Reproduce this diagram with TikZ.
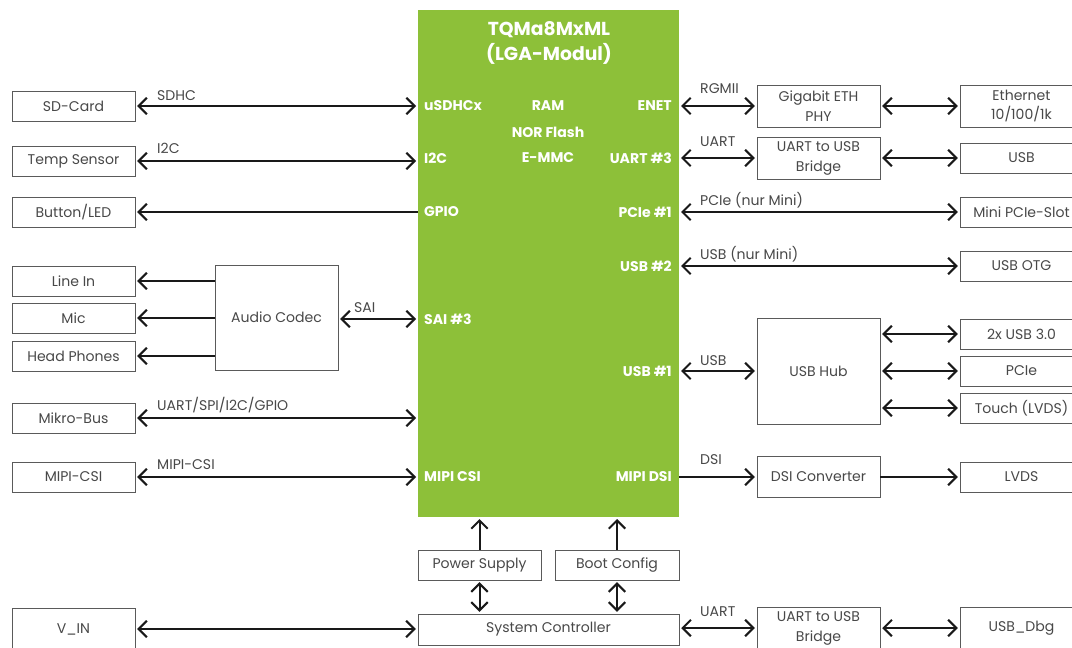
\documentclass[tikz,border=0pt]{standalone}
\usepackage{fontspec}
\setmainfont{Poppins}
\usepackage{xcolor}
\definecolor{tqgreen}{RGB}{141,192,57}
\definecolor{tqgrey}{RGB}{72,72,72}
\definecolor{tqline}{RGB}{90,90,90}
\definecolor{tqink}{RGB}{25,25,25}
\usetikzlibrary{arrows.meta,positioning}
\tikzset{
  box/.style={draw=tqline, line width=0.8pt, align=center, minimum width=3.69cm, minimum height=0.9cm, inner sep=1pt, text=tqgrey, font=\fontsize{12}{17}\selectfont},
  tall/.style={minimum height=1.26cm},
  port/.style={text=white, inner sep=0pt, font=\fontsize{12}{14}\selectfont\bfseries},
  bus/.style={anchor=base west, inner sep=0pt, text=tqgrey, font=\fontsize{12}{14}\selectfont},
  bi/.style={{Straight Barb[length=7pt,width=14pt]}-{Straight Barb[length=7pt,width=14pt]}, line width=1.7pt, tqink, shorten <=1.5pt, shorten >=1.5pt},
  uni/.style={-{Straight Barb[length=7pt,width=14pt]}, line width=1.7pt, tqink, shorten >=1.5pt}
}

\begin{document}
\begin{tikzpicture}[x=0.03cm, y=-0.03cm]
  \useasboundingbox (0,0) rectangle (1072,647);
  \clip (0,0) rectangle (1072,647);
  % module
  \node[fill=tqgreen, minimum width=7.83cm, minimum height=15.21cm, inner sep=0pt] (som) at (548.5,263.5) {};
  \node[port, font=\fontsize{16}{19}\selectfont\bfseries] (title) at (549,30) {TQMa8MxML};
  \node[port, font=\fontsize{16}{19}\selectfont\bfseries] (title2) at (549,54) {(LGA-Modul)};
  \node[port] (ram) at (548,106) {RAM};
  \node[port] (nor) at (548,132) {NOR Flash};
  \node[port] (emmc) at (548,158) {E-MMC};
  \node[port, anchor=west] (p-sd) at (424,106) {uSDHCx};
  \node[port, anchor=west] (p-i2c) at (424,158) {I2C};
  \node[port, anchor=west] (p-gpio) at (424,212) {GPIO};
  \node[port, anchor=west] (p-sai) at (424,319) {SAI \#3};
  \node[port, anchor=west] (p-csi) at (424,477) {MIPI CSI};
  \node[port, anchor=east] (p-enet) at (672,106) {ENET};
  \node[port, anchor=east] (p-uart) at (672,158) {UART \#3};
  \node[port, anchor=east] (p-pcie) at (672,212) {PCIe \#1};
  \node[port, anchor=east] (p-usb2) at (672,266) {USB \#2};
  \node[port, anchor=east] (p-usb1) at (672,371) {USB \#1};
  \node[port, anchor=east] (p-dsi) at (672,477) {MIPI DSI};

  % left side
  \node[box] (sd) at (73.5,106) {SD-Card};
  \node[box] (temp) at (73.5,161) {Temp Sensor};
  \node[box] (btn) at (73.5,212) {Button/LED};
  \node[box] (linein) at (73.5,281) {Line In};
  \node[box] (mic) at (73.5,318) {Mic};
  \node[box] (phones) at (73.5,356) {Head Phones};
  \node[box, minimum height=3.15cm] (codec) at (276.5,317.5) {Audio Codec};
  \node[box] (mikro) at (73.5,418) {Mikro-Bus};
  \node[box] (csi) at (73.5,477) {MIPI-CSI};
  \node[box, tall] (vin) at (73.5,629) {V\_IN};

  % bottom
  \node[box] (psu) at (479.5,565) {Power Supply};
  \node[box, minimum width=3.72cm] (boot) at (617,565) {Boot Config};
  \node[box, minimum width=7.83cm, minimum height=0.93cm] (sysctl) at (548.5,629.5) {System Controller};

  % right side
  \node[box, tall] (phy) at (818.5,106) {Gigabit ETH\\PHY};
  \node[box, tall] (eth) at (1021.5,106) {Ethernet\\10/100/1k};
  \node[box, tall] (bridge) at (818.5,158) {UART to USB\\Bridge};
  \node[box] (usb) at (1021.5,158) {USB};
  \node[box] (slot) at (1021.5,212) {Mini PCIe-Slot};
  \node[box] (otg) at (1021.5,266) {USB OTG};
  \node[box, minimum height=3.18cm] (hub) at (818.5,371) {USB Hub};
  \node[box] (usb3) at (1021.5,334) {2x USB 3.0};
  \node[box] (pcie) at (1021.5,371) {PCIe};
  \node[box] (touch) at (1021.5,408) {Touch (LVDS)};
  \node[box, minimum height=1.23cm] (dsiconv) at (818.5,477) {DSI Converter};
  \node[box] (lvds) at (1021.5,477) {LVDS};
  \node[box, tall] (dbgbridge) at (818.5,628) {UART to USB\\Bridge};
  \node[box, tall] (usbdbg) at (1021.5,628) {USB\_Dbg};

  % left connectors
  \draw[bi] (sd.east) -- (sd -| som.west);
  \node[bus] (l-sdhc) at (157,100) {SDHC};
  \draw[bi] (temp.east) -- (temp -| som.west);
  \node[bus] (l-i2c) at (157,153) {I2C};
  \draw[uni] (btn -| som.west) -- (btn.east);
  \draw[uni] (codec.west |- linein) -- (linein.east);
  \draw[uni] (codec.west |- mic) -- (mic.east);
  \draw[uni] (codec.west |- phones) -- (phones.east);
  \draw[bi] (codec.east |- p-sai) -- (p-sai -| som.west);
  \node[bus] (l-sai) at (354,312) {SAI};
  \draw[bi] (mikro.east) -- (mikro -| som.west);
  \node[bus] (l-mikro) at (157,410) {UART/SPI/I2C/GPIO};
  \draw[bi] (csi.east) -- (csi -| som.west);
  \node[bus] (l-csi) at (157,469) {MIPI-CSI};
  \draw[bi] (vin.east) -- (vin -| sysctl.west);

  % bottom connectors
  \draw[uni] (psu.north) -- (psu.north |- som.south);
  \draw[uni] (boot.north) -- (boot.north |- som.south);
  \draw[bi] (psu.south) -- (psu.south |- sysctl.north);
  \draw[bi] (boot.south) -- (boot.south |- sysctl.north);
  \draw[bi] (sysctl.east |- dbgbridge) -- (dbgbridge.west);
  \node[bus] (l-dbg) at (700,616) {UART};
  \draw[bi] (dbgbridge.east) -- (usbdbg.west);

  % right connectors
  \draw[bi] (som.east |- phy) -- (phy.west);
  \node[bus] (l-rgmii) at (700,93) {RGMII};
  \draw[bi] (phy.east) -- (eth.west);
  \draw[bi] (som.east |- bridge) -- (bridge.west);
  \node[bus] (l-uart) at (700,146) {UART};
  \draw[bi] (bridge.east) -- (usb.west);
  \draw[bi] (som.east |- slot) -- (slot.west);
  \node[bus] (l-pcie) at (700,205) {PCIe (nur Mini)};
  \draw[bi] (som.east |- otg) -- (otg.west);
  \node[bus] (l-otg) at (700,259) {USB (nur Mini)};
  \draw[bi] (som.east |- p-usb1) -- (p-usb1 -| hub.west);
  \node[bus] (l-usb) at (700,365) {USB};
  \draw[bi] (hub.east |- usb3) -- (usb3.west);
  \draw[bi] (hub.east |- pcie) -- (pcie.west);
  \draw[bi] (hub.east |- touch) -- (touch.west);
  \draw[uni] (som.east |- dsiconv) -- (dsiconv.west);
  \node[bus] (l-dsi) at (700,464) {DSI};
  \draw[uni] (dsiconv.east) -- (lvds.west);
\end{tikzpicture}
\end{document}
